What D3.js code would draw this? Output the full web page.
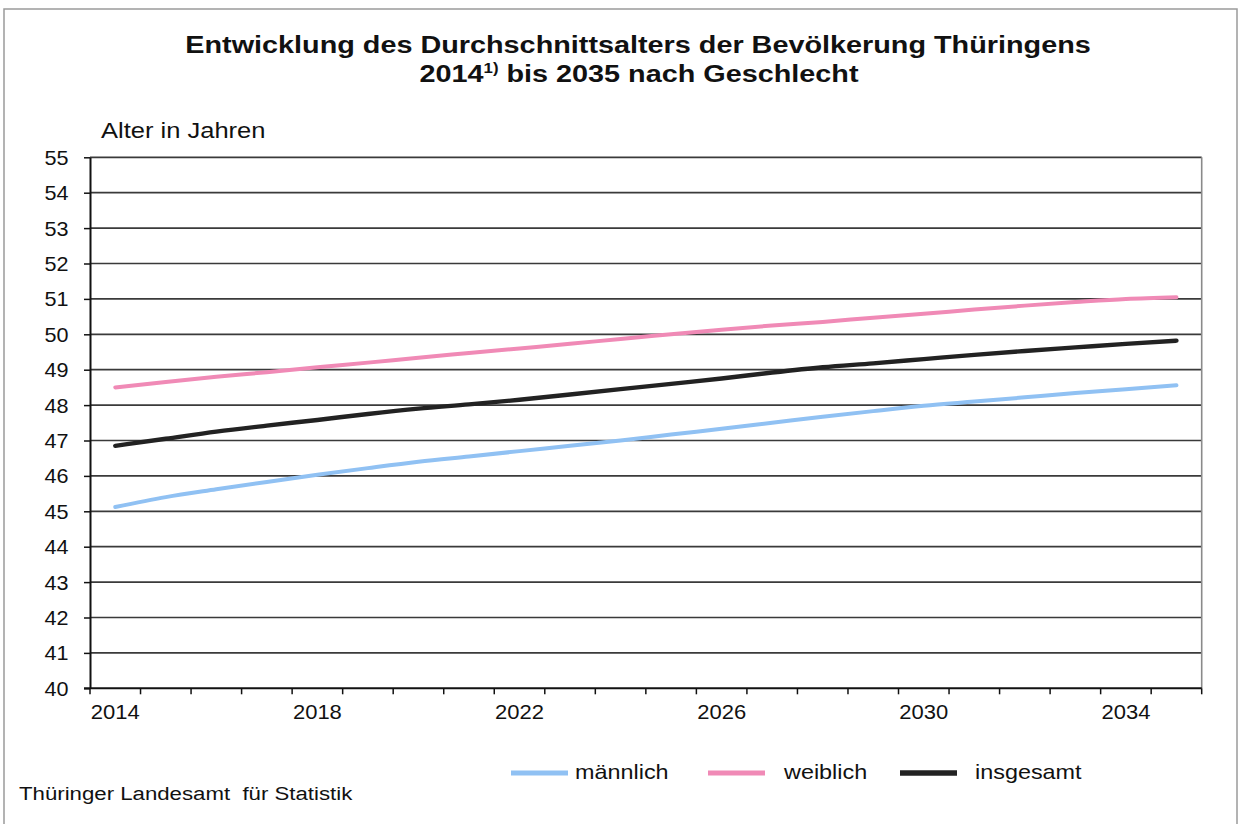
<!DOCTYPE html>
<html>
<head>
<meta charset="utf-8">
<script src="https://cdn.jsdelivr.net/npm/d3@7"></script>
<style>
  body { margin: 0; background: #fff; }
  svg { display: block; font-family: "Liberation Sans", Arial, sans-serif; }
</style>
</head>
<body>
<div id="chart"></div>
<script>
// Daten: Durchschnittsalter in Jahren
var years = d3.range(2014, 2036);
var maennlich = [45.12, 45.40, 45.62, 45.83, 46.03, 46.22, 46.40, 46.55, 46.70, 46.85, 47.00,
                 47.17, 47.33, 47.50, 47.67, 47.83, 47.98, 48.10, 48.22, 48.34, 48.45, 48.56];
var weiblich  = [48.50, 48.65, 48.80, 48.93, 49.07, 49.20, 49.34, 49.47, 49.60, 49.73, 49.87,
                 50.00, 50.13, 50.25, 50.35, 50.47, 50.58, 50.70, 50.81, 50.91, 51.00, 51.05];
var insgesamt = [46.85, 47.05, 47.25, 47.42, 47.58, 47.75, 47.90, 48.02, 48.15, 48.30, 48.45,
                 48.60, 48.75, 48.92, 49.07, 49.18, 49.30, 49.42, 49.53, 49.63, 49.73, 49.82];
var yearLabels = [2014, 2018, 2022, 2026, 2030, 2034];
var seriesNames = ["männlich", "weiblich", "insgesamt"];
var seriesColors = ["#90c1f3", "#f08ab6", "#222222"];

var W = 1240, H = 824;

var svg = d3.select("#chart").append("svg").attr("width", W).attr("height", H);
svg.append("rect").attr("width", W).attr("height", H).attr("fill", "#fff");

// äußerer Rahmen
svg.append("rect").attr("x", 4).attr("y", 9).attr("width", 1233).attr("height", 840)
  .attr("fill", "none").attr("stroke", "#9a9a9a").attr("stroke-width", 1.5);

// Text in der Vorlage ist etwas in die Breite gezogen -> sx
function stretchedText(x, y, str, size, sx, weight, anchor) {
  var g = svg.append("g").attr("transform", "translate(" + x + "," + y + ") scale(" + sx + ",1)");
  return g.append("text").attr("font-size", size).attr("font-weight", weight || "normal")
    .attr("text-anchor", anchor || "start").attr("fill", "#111").text(str);
}

// Titel
stretchedText(638, 53, "Entwicklung des Durchschnittsalters der Bevölkerung Thüringens", 24, 1.2, "bold", "middle");
var t2 = stretchedText(639, 82, "2014", 24, 1.2, "bold", "middle");
t2.append("tspan").attr("font-size", 14).attr("dy", -9).text("1)");
t2.append("tspan").attr("dy", 9).text(" bis 2035 nach Geschlecht");

stretchedText(101, 138, "Alter in Jahren", 22, 1.16);

var x = d3.scaleBand().domain(years).range([90, 1201.7]);
var y = d3.scaleLinear().domain([40, 55]).range([688.3, 157.3]);
var yTicks = d3.range(40, 56);

// Gitterlinien
svg.append("g").selectAll("line").data(yTicks.filter(function(d) { return d > 40; })).enter().append("line")
  .attr("x1", x.range()[0]).attr("x2", x.range()[1])
  .attr("y1", function(d) { return y(d); }).attr("y2", function(d) { return y(d); })
  .attr("stroke", "#3a3a3a").attr("stroke-width", 1.7);

// rechter Rand der Zeichenfläche
svg.append("line").attr("x1", x.range()[1]).attr("x2", x.range()[1])
  .attr("y1", y(55)).attr("y2", y(40)).attr("stroke", "#8a8a8a").attr("stroke-width", 1.6);

// y-Achse
var yAxis = svg.append("g").attr("transform", "translate(90,0)")
  .call(d3.axisLeft(y).tickValues(yTicks).tickSize(6).tickSizeOuter(0).tickFormat(d3.format("d")));
yAxis.select(".domain").attr("stroke", "#111").attr("stroke-width", 2);
yAxis.selectAll(".tick line").attr("stroke", "#111").attr("stroke-width", 1.5);
yAxis.selectAll(".tick text").attr("font-size", 20).attr("fill", "#111")
  .attr("font-family", "Liberation Sans, Arial, sans-serif")
  .attr("x", -20).attr("dy", "0.35em").attr("transform", "scale(1.08,1)");

// x-Achse
var xAxis = svg.append("g").attr("transform", "translate(0," + y(40) + ")");
xAxis.append("line").attr("x1", x.range()[0] - 6).attr("x2", x.range()[1])
  .attr("stroke", "#111").attr("stroke-width", 2);
xAxis.selectAll(".tk").data(years.concat([null])).enter().append("line").attr("class", "tk")
  .attr("x1", function(d) { return d === null ? x.range()[1] : x(d); })
  .attr("x2", function(d) { return d === null ? x.range()[1] : x(d); })
  .attr("y1", 0).attr("y2", 6).attr("stroke", "#111").attr("stroke-width", 1.5);
yearLabels.forEach(function(yr) {
  var g = xAxis.append("g").attr("transform", "translate(" + (x(yr) + x.bandwidth() / 2) + ",31) scale(1.1,1)");
  g.append("text").attr("text-anchor", "middle").attr("font-size", 20).attr("fill", "#111").text(yr);
});

// Linien
var allSeries = [maennlich, weiblich, insgesamt];
var line = d3.line()
  .x(function(d, i) { return x(years[i]) + x.bandwidth() / 2; })
  .y(function(d) { return y(d); })
  .curve(d3.curveMonotoneX);
svg.append("g").selectAll("path").data(allSeries).enter().append("path")
  .attr("d", line).attr("fill", "none")
  .attr("stroke", function(d, i) { return seriesColors[i]; })
  .attr("stroke-width", function(d, i) { return i === 2 ? 4.4 : 4; })
  .attr("stroke-linecap", "round");

// Legende
var legLineX = [511, 708, 900], legTextX = [575, 784, 975];
seriesNames.forEach(function(name, i) {
  svg.append("line").attr("x1", legLineX[i]).attr("x2", legLineX[i] + 57)
    .attr("y1", 773).attr("y2", 773)
    .attr("stroke", seriesColors[i]).attr("stroke-width", i === 2 ? 5.5 : 5);
  stretchedText(legTextX[i], 779, name, 20, 1.17);
});

stretchedText(19, 800, "Thüringer Landesamt  für Statistik", 19, 1.17).attr("xml:space", "preserve");
</script>
</body>
</html>
